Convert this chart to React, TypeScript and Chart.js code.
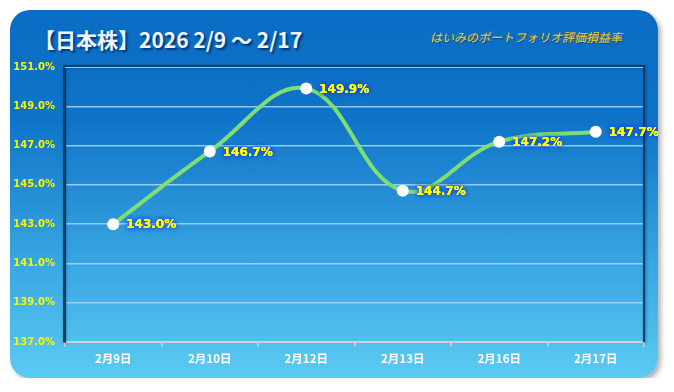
import React, { useEffect, useRef } from "react";
import { Chart, registerables } from "chart.js";

Chart.register(...registerables);

const categories: string[] = ["2月9日", "2月10日", "2月12日", "2月13日", "2月16日", "2月17日"];
const values: number[] = [143.0, 146.7, 149.9, 144.7, 147.2, 147.7];
const yMin = 137;
const yMax = 151;
const yStep = 2;
const titleText = "【日本株】2026 2/9 ～ 2/17";
const subtitleText = "はいみのポートフォリオ評価損益率";

const CW = 648;
const CH = 368;

const framePlugin = {
  id: "frame",
  beforeDatasetsDraw(chart: any) {
    const { ctx, chartArea } = chart;
    const { left, right, top, bottom } = chartArea;
    ctx.save();
    ctx.shadowColor = "rgba(0,20,60,0.5)";
    ctx.shadowBlur = 3;
    ctx.shadowOffsetX = 1;
    ctx.shadowOffsetY = 1;
    ctx.strokeStyle = "#0b3f70";
    ctx.lineWidth = 2;
    ctx.beginPath();
    ctx.moveTo(left - 1, bottom);
    ctx.lineTo(left - 1, top - 1);
    ctx.lineTo(right, top - 1);
    ctx.lineTo(right, bottom);
    ctx.stroke();
    ctx.restore();
    ctx.save();
    ctx.strokeStyle = "rgba(170,215,250,0.9)";
    ctx.lineWidth = 1;
    ctx.beginPath();
    ctx.moveTo(left, top + 0.5);
    ctx.lineTo(right - 1, top + 0.5);
    ctx.stroke();
    ctx.restore();
  },
};

const labelPlugin = {
  id: "pointLabels",
  afterDatasetsDraw(chart: any) {
    const { ctx } = chart;
    const meta = chart.getDatasetMeta(0);
    ctx.save();
    ctx.font = "bold 12px 'DejaVu Sans'";
    ctx.textAlign = "left";
    ctx.textBaseline = "middle";
    meta.data.forEach((pt: any, i: number) => {
      const txt = values[i].toFixed(1) + "%";
      const x = pt.x + 13;
      const y = pt.y + 1;
      ctx.shadowColor = "rgba(20,60,220,1)";
      ctx.shadowBlur = 5;
      ctx.fillStyle = "#ffff00";
      ctx.fillText(txt, x, y);
      ctx.fillText(txt, x, y);
      ctx.shadowBlur = 0;
      ctx.fillText(txt, x, y);
    });
    ctx.restore();
  },
};

export default function App() {
  const ref = useRef<HTMLCanvasElement | null>(null);

  useEffect(() => {
    if (!ref.current) return;
    const chart = new Chart(ref.current, {
      type: "line",
      data: {
        labels: categories,
        datasets: [
          {
            data: values,
            borderColor: "#80dd72",
            borderWidth: 4,
            tension: 0.4,
            pointRadius: 6,
            pointBackgroundColor: "#ffffff",
            pointBorderColor: "#ffffff",
            pointBorderWidth: 0,
            fill: false,
          },
        ],
      },
      options: {
        responsive: false,
        animation: false,
        layout: { padding: { top: 57, right: 14, bottom: 6, left: 0 } },
        plugins: {
          legend: { display: false },
          tooltip: { enabled: false },
          title: { display: false },
        },
        scales: {
          x: {
            offset: true,
            grid: {
              offset: true,
              drawOnChartArea: false,
              drawTicks: true,
              tickLength: 5,
              color: "#c9d2da",
              lineWidth: 1.5,
            },
            border: { display: true, color: "#c9d2da", width: 2 },
            ticks: {
              color: "#ffffff",
              padding: 5,
              font: { family: "'Noto Sans CJK JP'", size: 11.5, weight: "bold" },
            },
            afterFit: (s: any) => {
              s.height = 30;
            },
          },
          y: {
            min: yMin,
            max: yMax,
            ticks: {
              stepSize: yStep,
              color: "#f6f600",
              padding: 10,
              font: { family: "'DejaVu Sans'", size: 10, weight: "bold" },
              callback: (v: any) => Number(v).toFixed(1) + "%",
            },
            grid: {
              drawTicks: false,
              color: (c: any) =>
                c.tick && (c.tick.value === yMin || c.tick.value === yMax)
                  ? "rgba(0,0,0,0)"
                  : "rgba(170,215,250,0.85)",
              lineWidth: 1.5,
            },
            border: { display: true, color: "#0b3f70", width: 2 },
            afterFit: (s: any) => {
              s.width = 55;
            },
          },
        },
      },
      plugins: [framePlugin, labelPlugin],
    });
    return () => chart.destroy();
  }, []);

  return (
    <div
      style={{
        position: "relative",
        width: CW,
        height: CH,
        marginLeft: 2,
        marginTop: 2,
        borderRadius: 20,
        background: "linear-gradient(180deg, #0a6cc4 0%, #0f74c8 30%, #3aa8e2 70%, #5ccbf2 100%)",
        boxShadow: "3px 3px 5px rgba(0,0,0,0.3)",
        overflow: "visible",
      }}
    >
      <div
        style={{
          position: "absolute",
          left: 24,
          top: 16,
          fontFamily: "'Noto Sans CJK JP'",
          fontWeight: "bold",
          fontSize: 21,
          lineHeight: "26px",
          color: "#eef4fb",
          whiteSpace: "nowrap",
          textShadow: "2px 2px 2px rgba(0,40,100,0.8)",
        }}
      >
        {titleText}
      </div>
      <div
        style={{
          position: "absolute",
          left: 420,
          top: 19,
          fontFamily: "'Noto Sans CJK JP'",
          fontStyle: "italic",
          fontSize: 12,
          lineHeight: "15px",
          color: "#f2cf1c",
          whiteSpace: "nowrap",
          textShadow: "1px 1px 1px rgba(0,40,100,0.6)",
        }}
      >
        {subtitleText}
      </div>
      <div
        aria-hidden="true"
        style={{
          position: "absolute",
          left: 420,
          top: 33,
          fontFamily: "'Noto Sans CJK JP'",
          fontStyle: "italic",
          fontSize: 12,
          lineHeight: "15px",
          color: "#f2cf1c",
          whiteSpace: "nowrap",
          transform: "scaleY(-0.6)",
          transformOrigin: "top",
          opacity: 0.3,
        }}
      >
        {subtitleText}
      </div>
      <canvas
        ref={ref}
        width={CW}
        height={CH}
        style={{ position: "absolute", left: 0, top: 0, width: CW, height: CH }}
      />
    </div>
  );
}
